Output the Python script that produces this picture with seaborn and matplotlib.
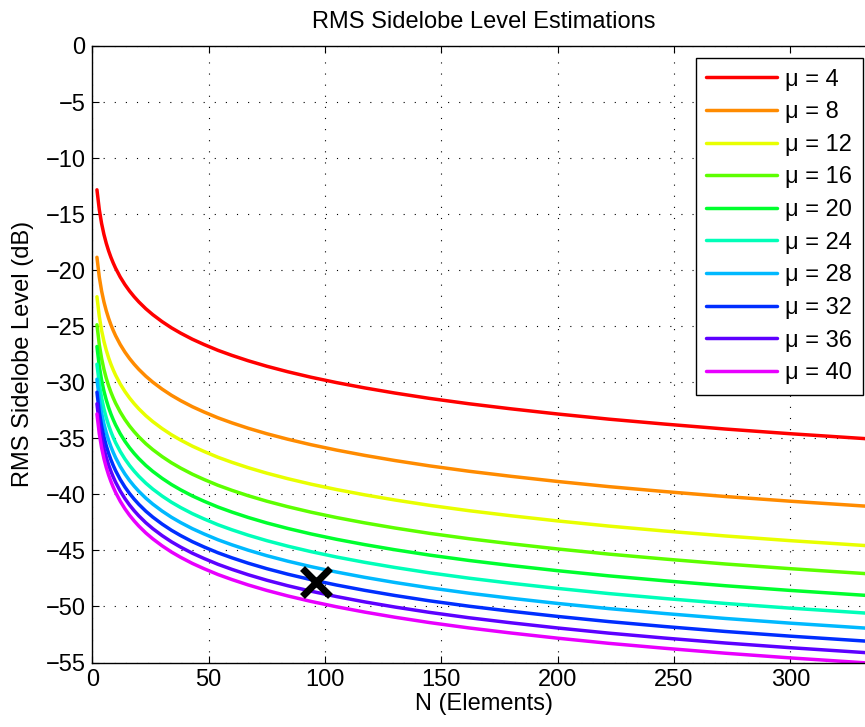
import matplotlib
matplotlib.use("Agg")
import matplotlib.pyplot as plt
import seaborn as sns
import pandas as pd

# Array size (number of elements) at which each curve is sampled
n_elements = [2, 3, 4, 5, 6, 7, 8, 9, 10, 12, 14, 16, 18, 20, 23, 26, 30, 34, 38,
              43, 48, 54, 60, 67, 75, 84, 94, 105, 117, 130, 145, 162, 180, 200,
              222, 246, 272, 300, 336]

# RMS sidelobe level (dB) for each mu
level_mu4 = [-12.83, -14.59, -15.84, -16.81, -17.60, -18.27, -18.85, -19.36, -19.82,
             -20.61, -21.28, -21.86, -22.37, -22.83, -23.44, -23.97, -24.59, -25.14,
             -25.62, -26.16, -26.63, -27.15, -27.60, -28.08, -28.57, -29.06, -29.55,
             -30.03, -30.50, -30.96, -31.44, -31.92, -32.37, -32.83, -33.29, -33.73,
             -34.17, -34.59, -35.08]
level_mu8 = [-18.85, -20.61, -21.86, -22.83, -23.62, -24.29, -24.87, -25.38, -25.84,
             -26.63, -27.30, -27.88, -28.39, -28.85, -29.46, -29.99, -30.61, -31.16,
             -31.64, -32.18, -32.65, -33.17, -33.62, -34.10, -34.59, -35.08, -35.57,
             -36.05, -36.52, -36.98, -37.46, -37.94, -38.39, -38.85, -39.31, -39.75,
             -40.19, -40.61, -41.10]
level_mu12 = [-22.37, -24.13, -25.38, -26.35, -27.14, -27.81, -28.39, -28.90, -29.36,
              -30.15, -30.82, -31.40, -31.91, -32.37, -32.98, -33.51, -34.13, -34.68,
              -35.16, -35.70, -36.17, -36.69, -37.14, -37.62, -38.11, -38.60, -39.09,
              -39.57, -40.04, -40.50, -40.98, -41.46, -41.91, -42.37, -42.83, -43.27,
              -43.71, -44.13, -44.62]
level_mu16 = [-24.87, -26.63, -27.88, -28.85, -29.64, -30.31, -30.89, -31.40, -31.86,
              -32.65, -33.32, -33.90, -34.41, -34.87, -35.48, -36.01, -36.63, -37.18,
              -37.66, -38.20, -38.67, -39.19, -39.64, -40.12, -40.61, -41.10, -41.59,
              -42.07, -42.54, -43.00, -43.48, -43.96, -44.41, -44.87, -45.33, -45.77,
              -46.21, -46.63, -47.12]
level_mu20 = [-26.81, -28.57, -29.82, -30.79, -31.58, -32.25, -32.83, -33.34, -33.80,
              -34.59, -35.26, -35.84, -36.35, -36.81, -37.42, -37.95, -38.57, -39.12,
              -39.60, -40.14, -40.61, -41.13, -41.58, -42.06, -42.55, -43.04, -43.53,
              -44.01, -44.48, -44.94, -45.42, -45.90, -46.35, -46.81, -47.27, -47.71,
              -48.15, -48.57, -49.06]
level_mu24 = [-28.39, -30.15, -31.40, -32.37, -33.16, -33.83, -34.41, -34.92, -35.38,
              -36.17, -36.84, -37.42, -37.93, -38.39, -39.00, -39.53, -40.15, -40.70,
              -41.18, -41.72, -42.19, -42.71, -43.16, -43.64, -44.13, -44.62, -45.11,
              -45.59, -46.06, -46.52, -47.00, -47.48, -47.93, -48.39, -48.85, -49.29,
              -49.73, -50.15, -50.64]
level_mu28 = [-29.73, -31.49, -32.74, -33.71, -34.50, -35.17, -35.75, -36.26, -36.72,
              -37.51, -38.18, -38.76, -39.27, -39.73, -40.34, -40.87, -41.49, -42.04,
              -42.52, -43.06, -43.53, -44.05, -44.50, -44.98, -45.47, -45.96, -46.45,
              -46.93, -47.40, -47.86, -48.34, -48.82, -49.27, -49.73, -50.19, -50.63,
              -51.07, -51.49, -51.98]
level_mu32 = [-30.89, -32.65, -33.90, -34.87, -35.66, -36.33, -36.91, -37.42, -37.88,
              -38.67, -39.34, -39.92, -40.43, -40.89, -41.50, -42.03, -42.65, -43.20,
              -43.68, -44.22, -44.69, -45.21, -45.66, -46.14, -46.63, -47.12, -47.61,
              -48.09, -48.56, -49.02, -49.50, -49.98, -50.43, -50.89, -51.35, -51.79,
              -52.23, -52.65, -53.14]
level_mu36 = [-31.92, -33.68, -34.93, -35.90, -36.69, -37.36, -37.94, -38.45, -38.91,
              -39.70, -40.37, -40.95, -41.46, -41.92, -42.53, -43.06, -43.68, -44.23,
              -44.71, -45.25, -45.72, -46.24, -46.69, -47.17, -47.66, -48.15, -48.64,
              -49.12, -49.59, -50.05, -50.53, -51.01, -51.46, -51.92, -52.38, -52.82,
              -53.26, -53.68, -54.17]
level_mu40 = [-32.83, -34.59, -35.84, -36.81, -37.60, -38.27, -38.85, -39.36, -39.82,
              -40.61, -41.28, -41.86, -42.37, -42.83, -43.44, -43.97, -44.59, -45.14,
              -45.62, -46.16, -46.63, -47.15, -47.60, -48.08, -48.57, -49.06, -49.55,
              -50.03, -50.50, -50.96, -51.44, -51.92, -52.37, -52.83, -53.29, -53.73,
              -54.17, -54.59, -55.08]

mu_values = [4, 8, 12, 16, 20, 24, 28, 32, 36, 40]
levels = [level_mu4, level_mu8, level_mu12, level_mu16, level_mu20,
          level_mu24, level_mu28, level_mu32, level_mu36, level_mu40]

# Hue-wheel colours, red through magenta
line_colors = ["#FF0000", "#FF8B00", "#E8FF00", "#5DFF00", "#00FF2E",
               "#00FFB9", "#00B9FF", "#002EFF", "#5D00FF", "#E800FF"]

# Selected design point
design_n = [96]
design_level = [-47.8]

sns.set_theme(style="white")
plt.rcParams["font.family"] = ["Liberation Sans", "DejaVu Sans"]
plt.rcParams["axes.unicode_minus"] = True
plt.rcParams["text.color"] = "black"
plt.rcParams["axes.labelcolor"] = "black"
plt.rcParams["xtick.color"] = "black"
plt.rcParams["ytick.color"] = "black"

FS = 17
LW = 2.5

labels = [f"μ = {m}" for m in mu_values]
frames = []
for lab, lev in zip(labels, levels):
    frames.append(pd.DataFrame({"N": n_elements, "level": lev, "mu": lab}))
df = pd.concat(frames, ignore_index=True)

W, H = 865, 727
fig = plt.figure(figsize=(W / 100, H / 100), dpi=100)
ax_left, ax_right, ax_top, ax_bottom = 92.3, 875.0, 46.0, 662.5
ax = fig.add_axes([ax_left / W, (H - ax_bottom) / H,
                   (ax_right - ax_left) / W, (ax_bottom - ax_top) / H])

sns.lineplot(data=df, x="N", y="level", hue="mu", hue_order=labels,
             palette=line_colors, linewidth=LW, sort=False, estimator=None,
             ax=ax)

ax.plot(design_n, design_level, linestyle="none", marker="x", color="black",
        markersize=20, markeredgewidth=5, zorder=5)

ax.set_xlim(0, 336.4)
ax.set_ylim(-55, 0)
ax.set_xticks([0, 50, 100, 150, 200, 250, 300])
ax.set_yticks(list(range(-55, 1, 5)))

ax.grid(True, color="black", linestyle=(0, (1, 9)), linewidth=0.8)
for side in ["left", "bottom", "top", "right"]:
    ax.spines[side].set_color("black")
    ax.spines[side].set_linewidth(1.0)
    ax.spines[side].set_visible(True)
ax.tick_params(direction="in", length=5, width=0.8, colors="black",
               labelsize=FS, top=True, right=True, left=True, bottom=True,
               pad=5)

ax.set_title("RMS Sidelobe Level Estimations", fontsize=FS, pad=13,
             color="black")
ax.set_xlabel("N (Elements)", fontsize=FS, labelpad=1)
ax.set_ylabel("RMS Sidelobe Level (dB)", fontsize=FS, labelpad=8)

leg_x = (863 - ax_left) / (ax_right - ax_left)
leg_y = (ax_bottom - 58) / (ax_bottom - ax_top)
leg = ax.legend(loc="upper right", bbox_to_anchor=(leg_x, leg_y),
                borderaxespad=0, fontsize=FS, handlelength=3.0,
                handletextpad=0.35, labelspacing=0.45, borderpad=0.45,
                fancybox=False, framealpha=1, edgecolor="black")
leg.get_frame().set_linewidth(1.0)
for line in leg.get_lines():
    line.set_linewidth(LW)
for t in leg.get_texts():
    t.set_color("black")

fig.savefig("out.png", dpi=100)
